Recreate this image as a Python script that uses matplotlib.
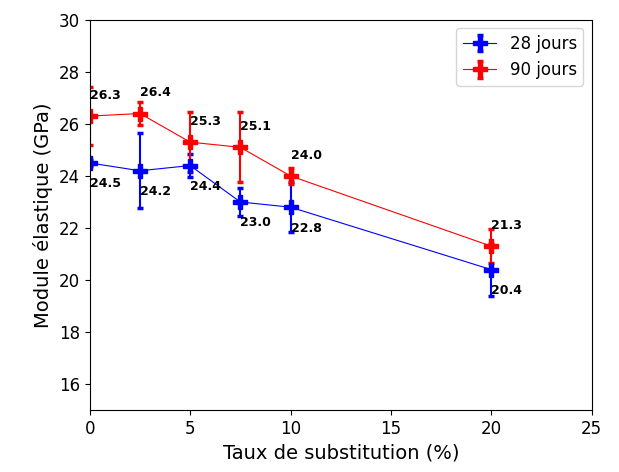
import matplotlib
matplotlib.use("Agg")
import matplotlib.pyplot as plt

x = [0, 2.5, 5, 7.5, 10, 20]
y28 = [24.5, 24.2, 24.4, 23.0, 22.8, 20.4]
e28 = [0.1, 1.45, 0.45, 0.55, 0.95, 1.0]
y90 = [26.3, 26.4, 25.3, 25.1, 24.0, 21.3]
e90 = [1.1, 0.45, 1.15, 1.35, 0.3, 0.65]
xticks = [0, 5, 10, 15, 20, 25]
yticks = [16, 18, 20, 22, 24, 26, 28, 30]

fig = plt.figure(figsize=(6.19, 4.72), dpi=100)
ax = fig.add_axes([0.145, 0.131, 0.811, 0.827])

ax.errorbar(x, y28, yerr=e28, color="blue", marker="P", markersize=10,
            linewidth=0.8, elinewidth=1.5, capsize=2, capthick=2.5, label="28 jours")
ax.errorbar(x, y90, yerr=e90, color="red", marker="P", markersize=10,
            linewidth=0.8, elinewidth=1.5, capsize=2, capthick=2.5, label="90 jours")

for xi, v in zip(x, y28):
    ax.text(xi, v - 0.8, f"{v:.1f}", fontsize=9, fontweight="bold",
            ha="left", va="center", color="black")
for xi, v in zip(x, y90):
    ax.text(xi, v + 0.8, f"{v:.1f}", fontsize=9, fontweight="bold",
            ha="left", va="center", color="black")

ax.set_xlim(0, 25)
ax.set_ylim(15, 30)
ax.set_xticks(xticks)
ax.set_yticks(yticks)
ax.tick_params(labelsize=12)
ax.set_xlabel("Taux de substitution (%)", fontsize=14)
ax.set_ylabel("Module élastique (GPa)", fontsize=14)
ax.legend(loc="upper right", fontsize=12)

fig.savefig("out.png", dpi=100)
